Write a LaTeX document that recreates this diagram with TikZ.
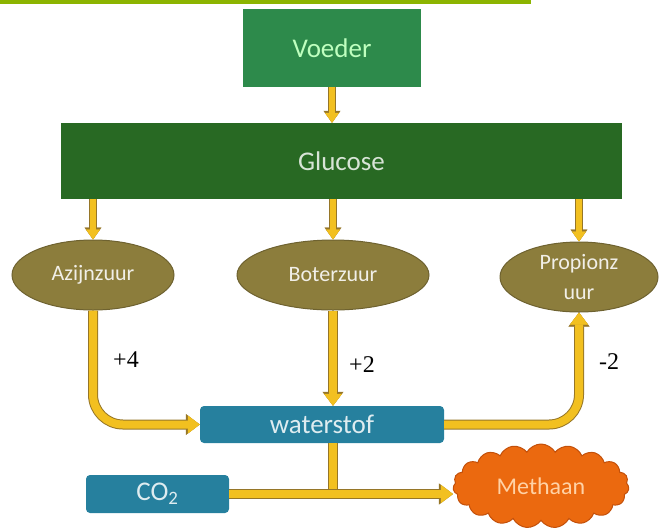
\documentclass[tikz,border=0pt]{standalone}
\usepackage{fontspec}
\setmainfont{Carlito}
\newfontfamily\numfont{Liberation Serif}
\usepackage{tikz}
\usetikzlibrary{arrows.meta}
\usetikzlibrary{shapes.geometric}
\usetikzlibrary{shapes.symbols}
\definecolor{barcol}{RGB}{140,180,0}
\definecolor{feedcol}{RGB}{45,138,75}
\definecolor{glucol}{RGB}{40,105,35}
\definecolor{acidcol}{RGB}{140,125,60}
\definecolor{acidedge}{RGB}{110,98,48}
\definecolor{gascol}{RGB}{38,128,158}
\definecolor{methcol}{RGB}{235,105,15}
\definecolor{methedge}{RGB}{195,80,10}
\definecolor{flowfill}{RGB}{242,192,32}
\definecolor{flowedge}{RGB}{150,118,40}

\begin{document}
\begin{tikzpicture}[x=1pt,y=-1pt]
\tikzstyle{box}=[rectangle,inner sep=0pt,font=\fontsize{27}{30}\selectfont]
\tikzstyle{acid}=[ellipse,fill=acidcol,draw=acidedge,line width=1pt,inner sep=0pt,
  minimum height=70pt,text=white!88!acidcol,font=\fontsize{22}{30}\selectfont,align=center]
\tikzstyle{gas}=[rectangle,rounded corners=4pt,fill=gascol,inner sep=0pt,
  text=white!85!gascol,font=\fontsize{27}{30}\selectfont]
\tikzstyle{flow}=[draw=flowfill,line width=8pt,preaction={draw=flowedge,line width=10pt}]
\tikzstyle{flowto}=[draw=flowfill,line width=6pt,-{Triangle[length=10pt,width=14pt,line width=0.4pt]},
  preaction={draw=flowedge,line width=8pt,-{Triangle[length=12pt,width=17pt,line width=0.4pt]}}]
\tikzstyle{bigflow}=[draw=flowfill,line width=8pt,-{Triangle[length=12pt,width=18pt,line width=0.4pt]},
  preaction={draw=flowedge,line width=10pt,-{Triangle[length=14pt,width=21pt,line width=0.4pt]}}]
\tikzstyle{num}=[font=\numfont\fontsize{24}{28}\selectfont]
\useasboundingbox (0,0) rectangle (660,528);
\fill[barcol] (0,0) rectangle (531,4);
% top
\node[box,fill=feedcol,text=white!75!green,minimum width=178pt,minimum height=78pt] (vo) at (332,48) {Voeder};
\node[box,fill=glucol,text=white!82!glucol,minimum width=561pt,minimum height=76pt] (gl) at (341.5,161) {Glucose};
% acids
\node[acid,minimum width=162pt] (az) at (93,275) {Azijnzuur};
\node[acid,minimum width=192pt] (bo) at (333,275) {Boterzuur};
\node[acid,minimum width=158pt] (pr) at (579,277) {Propionz\\uur};
% gases
\node[gas,minimum width=244pt,minimum height=37pt] (ws) at (322,424.5) {waterstof};
\node[gas,minimum width=143pt,minimum height=38pt] (co) at (157.5,494) {CO\textsubscript{2}};
\node[cloud,cloud puffs=19,cloud puff arc=120,aspect=2.1,fill=methcol,draw=methedge,line width=1pt,
  inner sep=0pt,minimum width=176pt,minimum height=84pt,text=white!65!orange,
  font=\fontsize{24}{28}\selectfont] (me) at (541,486) {Methaan};
\coordinate (j) at (bo.south |- co.east);
% flows
\draw[flowto] (vo.south) -- (vo.south |- gl.north);
\draw[flowto] (az.north |- gl.south) -- (az.north);
\draw[flowto] (bo.north |- gl.south) -- (bo.north);
\draw[flowto] (pr.north |- gl.south) -- (pr.north);
\draw[bigflow,rounded corners=30pt] (az.south) |- (ws.west);
\draw[bigflow] (bo.south) -- (bo.south |- ws.north);
\draw[bigflow,rounded corners=30pt] (ws.east) -| (pr.south);
\draw[flow] (bo.south |- ws.south) -- (j);
\draw[bigflow] (co.east) -- (co.east -| me.west);
% numbers
\node[num] (n1) at (126,360) {+4};
\node[num] (n2) at (362,365) {+2};
\node[num] (n3) at (609,362) {-2};
\end{tikzpicture}
\end{document}
